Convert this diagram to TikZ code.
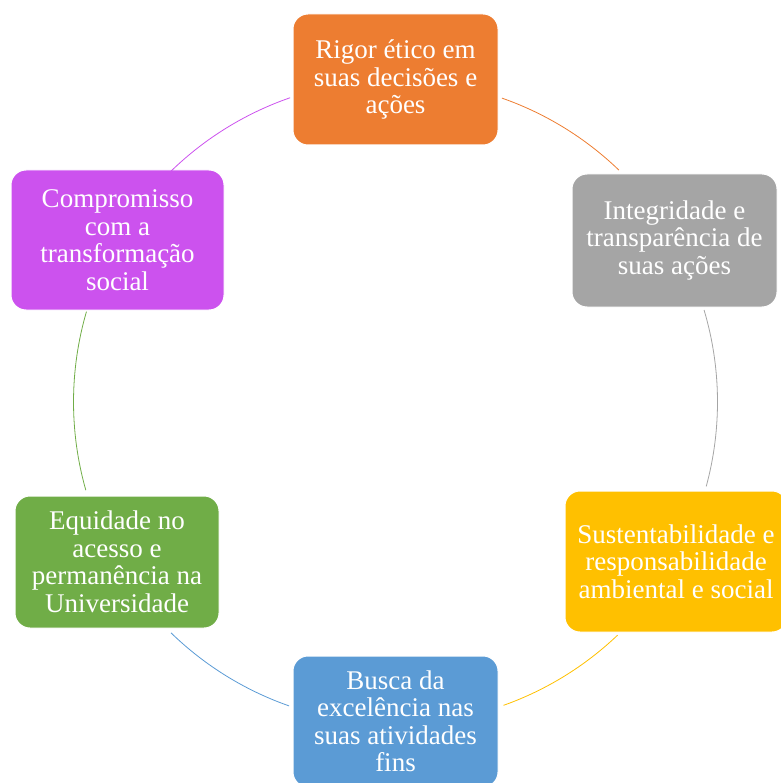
\documentclass[tikz,border=0pt]{standalone}
\usepackage{fontspec}
\setmainfont{Liberation Serif}
\definecolor{cOrange}{HTML}{ED7D31}
\definecolor{cGray}{HTML}{A5A5A5}
\definecolor{cYellow}{HTML}{FFC000}
\definecolor{cBlue}{HTML}{5B9BD5}
\definecolor{cGreen}{HTML}{70AD47}
\definecolor{cPurple}{HTML}{CC52EE}
\begin{document}
\begin{tikzpicture}[x=1pt,y=1pt,
  box/.style={draw=white, line width=1pt, rounded corners=15pt, text=white, align=center,
    font=\fontsize{27}{27.5}\selectfont, inner sep=0pt},
  link/.style={line width=0.8pt}]
\useasboundingbox (0,0) rectangle (780,-783);
\coordinate (C) at (395.5,-402);
\def\R{322pt}
\node[box, fill=cOrange, minimum width=205pt, minimum height=131pt] (rigor) at (395.5,-79.5) {Rigor ético em\\suas decisões e\\ações};
\node[box, fill=cGray, minimum width=205pt, minimum height=133pt] (integ) at (674.5,-240.5) {Integridade e\\transparência de\\suas ações};
\node[box, fill=cYellow, minimum width=222pt, minimum height=141pt] (sust) at (676,-561.5) {Sustentabilidade e\\responsabilidade\\ambiental e social};
\node[box, fill=cBlue, minimum width=205pt, minimum height=131pt] (busca) at (395.5,-721.5) {Busca da\\excelência nas\\suas atividades\\fins};
\node[box, fill=cGreen, minimum width=204pt, minimum height=132pt] (equid) at (117,-562) {Equidade no\\acesso e\\permanência na\\Universidade};
\node[box, fill=cPurple, minimum width=213pt, minimum height=140pt] (comp) at (117.5,-240) {Compromisso\\com a\\transformação\\social};
% arc start points on the circle
\path (C) ++(70.7:\R) coordinate (a1);
\path (C) ++(16.6:\R) coordinate (a2);
\path (C) ++(-46.4:\R) coordinate (a3);
\path (C) ++(-109.3:\R) coordinate (a4);
\path (C) ++(-164.1:\R) coordinate (a5);
\path (C) ++(134.2:\R) coordinate (a6);
\draw[link, cOrange] (a1) arc[start angle=70.7, end angle=46.1, radius=\R];
\draw[link, cGray] (a2) arc[start angle=16.6, end angle=-15.2, radius=\R];
\draw[link, cYellow] (a3) arc[start angle=-46.4, end angle=-70.4, radius=\R];
\draw[link, cBlue] (a4) arc[start angle=-109.3, end angle=-134.2, radius=\R];
\draw[link, cGreen] (a5) arc[start angle=-164.1, end angle=-196.3, radius=\R];
\draw[link, cPurple] (a6) arc[start angle=134.2, end angle=109.1, radius=\R];
\end{tikzpicture}
\end{document}
